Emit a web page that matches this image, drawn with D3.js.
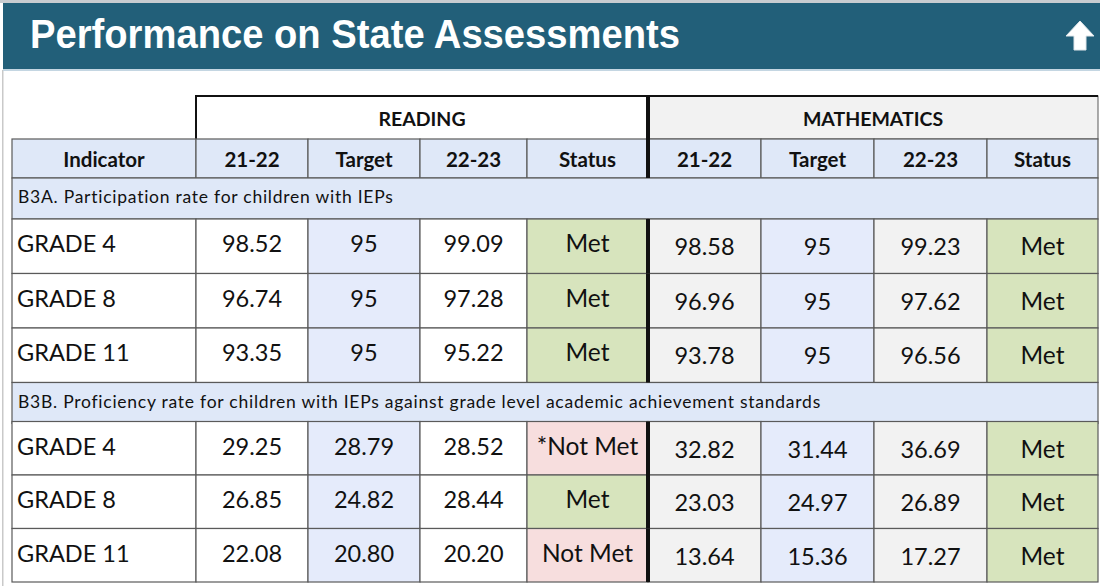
<!DOCTYPE html>
<html>
<head>
<meta charset="utf-8">
<script src="https://cdn.jsdelivr.net/npm/d3@7"></script>
<style>
  body { margin: 0; background: #fff; }
  svg { display: block; }
</style>
</head>
<body>
<div id="chart"></div>
<script>
const title = "Performance on State Assessments";
const subjects = ["READING", "MATHEMATICS"];
const columns = ["21-22", "Target", "22-23", "Status"];
const grades = ["GRADE 4", "GRADE 8", "GRADE 11"];
const sections = [
  "B3A. Participation rate for children with IEPs",
  "B3B. Proficiency rate for children with IEPs against grade level academic achievement standards"
];
// per section, per grade
const readPrior = [[98.52, 96.74, 93.35], [29.25, 26.85, 22.08]];
const readTarget = [[95, 95, 95], [28.79, 24.82, 20.80]];
const readCurrent = [[99.09, 97.28, 95.22], [28.52, 28.44, 20.20]];
const readStatus = [["Met", "Met", "Met"], ["*Not Met", "Met", "Not Met"]];
const mathPrior = [[98.58, 96.96, 93.78], [32.82, 23.03, 13.64]];
const mathTarget = [[95, 95, 95], [31.44, 24.97, 15.36]];
const mathCurrent = [[99.23, 97.62, 96.56], [36.69, 26.89, 17.27]];
const mathStatus = [["Met", "Met", "Met"], ["Met", "Met", "Met"]];

const W = 1100, H = 586;
const font = "Lato, 'Open Sans', sans-serif";
const fmt = v => (Number.isInteger(v) ? String(v) : d3.format(".2f")(v));

const svg = d3.select("#chart").append("svg").attr("width", W).attr("height", H);

// page frame
svg.append("rect").attr("x", 0).attr("y", 0).attr("width", W).attr("height", 3).attr("fill", "#c8ccd0");
svg.append("rect").attr("x", 2).attr("y", 70).attr("width", 1.5).attr("height", H - 70).attr("fill", "#c9c9c9");

// title bar
svg.append("rect").attr("x", 3).attr("y", 3).attr("width", W - 3).attr("height", 66).attr("fill", "#225f79");
svg.append("rect").attr("x", 3).attr("y", 69).attr("width", W - 3).attr("height", 2).attr("fill", "#c4d6e2");
svg.append("text").attr("x", 30).attr("y", 48)
  .attr("font-family", "'Liberation Sans', Arial, sans-serif").attr("font-weight", 700)
  .attr("font-size", 40).attr("textLength", 650).attr("lengthAdjust", "spacingAndGlyphs")
  .attr("fill", "#fff").text(title);
svg.append("path")
  .attr("d", "M1080,21 L1094,36 L1086,36 L1086,50 L1074,50 L1074,36 L1066,36 Z")
  .attr("fill", "#fff").attr("stroke", "#dfe6ea").attr("stroke-width", 1);

// column layout
const edges = [12, 196, 308, 420, 527, 648, 761, 874, 987, 1098];
const colX = i => edges[i];
const colW = i => edges[i + 1] - edges[i];

// row layout
const rows = [];
const rowH = { group: 43, head: 39, section: 41, grade: 54.5 };
let y = 96;
rows.push({ type: "group", y, h: rowH.group }); y += rowH.group;
rows.push({ type: "head", y, h: rowH.head }); y += rowH.head;
sections.forEach((s, si) => {
  rows.push({ type: "section", y, h: rowH.section, text: s }); y += rowH.section - (si ? 2 : 0);
  grades.forEach((g, gi) => {
    rows.push({ type: "grade", y, h: rowH.grade - (si ? 1 : 0), si, gi });
    y += rowH.grade - (si ? 1 : 0);
  });
});

const colors = {
  head: "#dfe8f8", target: "#e5ebfb", met: "#d7e4bd", notmet: "#f7dede",
  math: "#f2f2f2", white: "#ffffff", line: "#5a5a5a", text: "#111"
};
const statusFill = s => (s.includes("Not") ? colors.notmet : colors.met);

const g = svg.append("g");

function cell(x, y, w, h, fill) {
  g.append("rect").attr("x", x).attr("y", y).attr("width", w).attr("height", h)
    .attr("fill", fill).attr("stroke", colors.line).attr("stroke-width", 1.2);
}
function label(x, y, txt, size, weight, anchor, spacing) {
  g.append("text").attr("x", x).attr("y", y).attr("font-family", font)
    .attr("font-size", size).attr("font-weight", weight || 400)
    .attr("letter-spacing", spacing || 0)
    .attr("text-anchor", anchor || "middle").attr("fill", colors.text).text(txt);
}

rows.forEach(r => {
  if (r.type === "group") {
    g.append("rect").attr("x", colX(1)).attr("y", r.y).attr("width", edges[5] - edges[1]).attr("height", r.h)
      .attr("fill", colors.white);
    g.append("rect").attr("x", colX(5)).attr("y", r.y).attr("width", edges[9] - edges[5]).attr("height", r.h)
      .attr("fill", colors.math).attr("stroke", colors.line).attr("stroke-width", 1);
    g.append("path").attr("d", `M${colX(1)},${r.y + r.h} V${r.y} H${edges[9]}`)
      .attr("fill", "none").attr("stroke", "#111").attr("stroke-width", 2);
    label((edges[1] + edges[5]) / 2, r.y + 30, subjects[0], 19.5, 700);
    label((edges[5] + edges[9]) / 2, r.y + 30, subjects[1], 19.5, 700);
  } else if (r.type === "head") {
    ["Indicator"].concat(columns, columns).forEach((c, i) => {
      cell(colX(i), r.y, colW(i), r.h, colors.head);
      label(colX(i) + colW(i) / 2, r.y + 28, c, 20.5, 700);
    });
  } else if (r.type === "section") {
    cell(edges[0], r.y, edges[9] - edges[0], r.h, colors.head);
    label(edges[0] + 6, r.y + 25, r.text, 17.5, 400, "start", 0.75);
  } else {
    const { si, gi } = r;
    const vals = [
      grades[gi],
      fmt(readPrior[si][gi]), fmt(readTarget[si][gi]), fmt(readCurrent[si][gi]), readStatus[si][gi],
      fmt(mathPrior[si][gi]), fmt(mathTarget[si][gi]), fmt(mathCurrent[si][gi]), mathStatus[si][gi]
    ];
    vals.forEach((v, i) => {
      let fill = colors.white;
      if (i === 2 || i === 6) fill = colors.target;
      else if (i === 4 || i === 8) fill = statusFill(v);
      else if (i >= 5) fill = colors.math;
      cell(colX(i), r.y, colW(i), r.h, fill);
      const base = r.y + (i >= 5 ? 36 : 33);
      if (i === 0) label(colX(i) + 5, base, v, 23.5, 400, "start");
      else if (i === 4 || i === 8) label(colX(i) + colW(i) / 2, base, v, 24.5, 400);
      else label(colX(i) + colW(i) / 2, base, v, 23.5, 400);
    });
  }
});

// heavy divider between subjects
g.append("rect").attr("x", edges[5] - 2).attr("y", 96).attr("width", 4).attr("height", 82).attr("fill", "#111");
rows.filter(r => r.type === "grade").forEach(r => {
  g.append("rect").attr("x", edges[5] - 2).attr("y", r.y).attr("width", 4).attr("height", r.h).attr("fill", "#111");
});
</script>
</body>
</html>
